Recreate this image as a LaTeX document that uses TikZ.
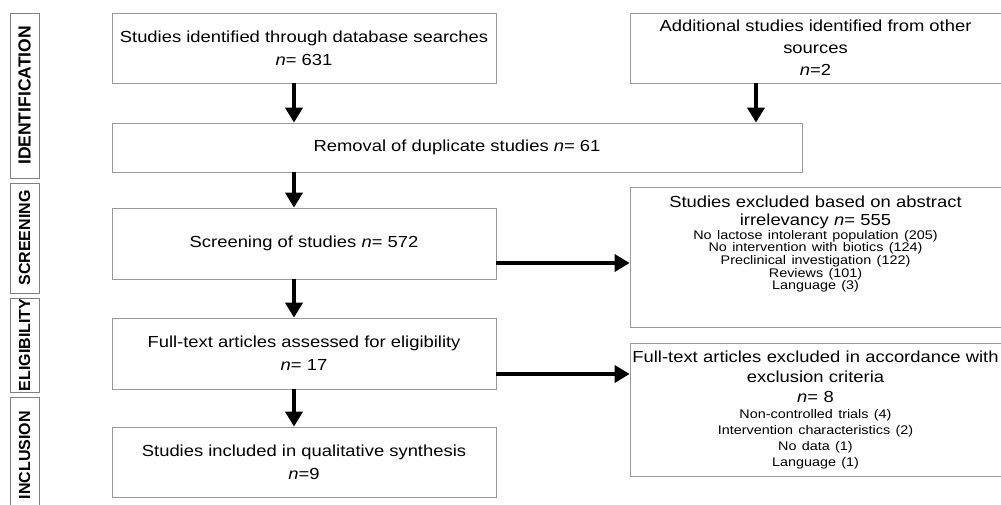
\documentclass[tikz,border=0pt]{standalone}
\usepackage{fontspec}
\setmainfont[FakeStretch=1.15]{Liberation Sans}
\newfontfamily\sidefont{Liberation Sans}
\usetikzlibrary{arrows.meta}
\newcommand{\bigf}{\fontsize{16}{23}\selectfont}
\newcommand{\smf}{\fontsize{12.5}{11.3}\selectfont}
\begin{document}
\begin{tikzpicture}[x=1pt,y=-1pt,
  box/.style={draw=black!40, line width=0.8pt, align=center, inner sep=1pt, font=\bigf},
  side/.style={draw=black!50, line width=0.8pt, rotate=90, inner sep=0pt,
    font=\sidefont\bfseries\fontsize{16}{18}\selectfont, minimum height=29pt},
  arr/.style={line width=4pt, -{Triangle[width=17pt,length=15pt]}}]
\clip (0,0) rectangle (1001,504);
\fill[white] (0,0) rectangle (1001,504);
% side labels
\node[side, minimum width=165pt, font=\sidefont\bfseries\fontsize{17.5}{18}\selectfont] (sid) at (24.5,95.5) {IDENTIFICATION};
\node[side, minimum width=110pt] (ssc) at (24.5,238) {SCREENING};
\node[side, minimum width=94pt] (sel) at (24.5,345) {ELIGIBILITY};
\node[side, minimum width=115pt] (sin) at (24.5,455) {INCLUSION};
% main boxes
\node[box, minimum width=384pt, minimum height=70pt] (db) at (304,48)
  {Studies identified through database searches\\ \textit{n}= 631};
\node[box, minimum width=371pt, minimum height=70pt, font=\fontsize{16}{22}\selectfont] (oth) at (815.5,48)
  {Additional studies identified from other\\ sources\\ \textit{n}=2};
\node[box, minimum width=690pt, minimum height=49pt] (dup) at (457,147.5)
  {Removal of duplicate studies \textit{n}= 61};
\node[box, minimum width=384pt, minimum height=71pt] (scr) at (304,243.5)
  {Screening of studies \textit{n}= 572};
\node[box, minimum width=384pt, minimum height=71pt] (ft) at (304,353.5)
  {Full-text articles assessed for eligibility\\ \textit{n}= 17};
\node[box, minimum width=384pt, minimum height=70pt] (inc) at (304,462)
  {Studies included in qualitative synthesis\\ \textit{n}=9};
\node[box, minimum width=371pt, minimum height=140pt, text width=366pt] (ex1) at (815.5,257)
  {\bigf\baselineskip=18pt Studies excluded based on abstract\\ irrelevancy \textit{n}= 555\par
   \smf No lactose intolerant population (205)\\ No intervention with biotics (124)\\
   Preclinical investigation (122)\\ Reviews (101)\\ Language (3)\rule[-28pt]{0pt}{1pt}\par};
\node[box, minimum width=371pt, minimum height=133pt, text width=366pt] (ex2) at (815.5,409.5)
  {\bigf\baselineskip=20pt \makebox[\linewidth]{Full-text articles excluded in accordance with}\\ exclusion criteria\\ \textit{n}= 8\par
   \fontsize{12.5}{16}\selectfont Non-controlled trials (4)\\ Intervention characteristics (2)\\
   No data (1)\\ Language (1)\par};
% arrows
\coordinate (c1) at (294,0);
\coordinate (c2) at (756,0);
\coordinate (h1) at (0,263);
\coordinate (h2) at (0,374);
\draw[arr] (db.south -| c1) -- (dup.north -| c1);
\draw[arr] (oth.south -| c2) -- (dup.north -| c2);
\draw[arr] (dup.south -| c1) -- (scr.north -| c1);
\draw[arr] (scr.south -| c1) -- (ft.north -| c1);
\draw[arr] (ft.south -| c1) -- (inc.north -| c1);
\draw[arr] (scr.east |- h1) -- (ex1.west |- h1);
\draw[arr] (ft.east |- h2) -- (ex2.west |- h2);
\end{tikzpicture}
\end{document}
